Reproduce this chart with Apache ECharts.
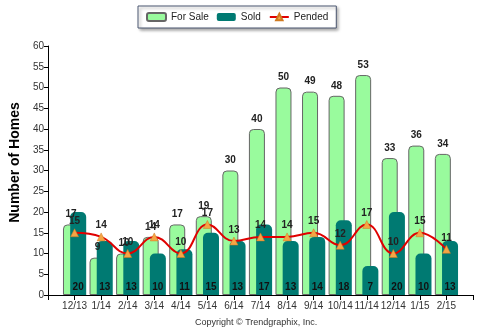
<!DOCTYPE html>
<html>
<head>
<meta charset="utf-8">
<script src="https://cdn.jsdelivr.net/npm/echarts@6/dist/echarts.min.js"></script>
<style>
  html, body { margin: 0; padding: 0; background: #fff; }
  #chart { width: 481px; height: 335px; }
</style>
</head>
<body>
<div id="chart"></div>
<script>
// Monthly home counts
const months = ['12/13', '1/14', '2/14', '3/14', '4/14', '5/14', '6/14', '7/14', '8/14', '9/14', '10/14', '11/14', '12/14', '1/15', '2/15'];
const forSale = [17, 9, 10, 14, 17, 19, 30, 40, 50, 49, 48, 53, 33, 36, 34];
const sold = [20, 13, 13, 10, 11, 15, 13, 17, 13, 14, 18, 7, 20, 10, 13];
const pended = [15, 14, 10, 14, 10, 17, 13, 14, 14, 15, 12, 17, 10, 15, 11];

// pad the axis with an empty slot on each side so the months sit inside
const pad = arr => ['-'].concat(arr, ['-']);
const axisCats = [''].concat(months, ['']);

const font = 'Arial, "Liberation Sans", sans-serif';
const chart = echarts.init(document.getElementById('chart'));

chart.setOption({
  animation: false,
  textStyle: { fontFamily: font },
  legend: {
    top: 6,
    left: 138,
    itemWidth: 19,
    itemHeight: 8,
    itemGap: 8,
    padding: [6, 8, 6, 8],
    backgroundColor: '#fff',
    borderColor: '#4a5670',
    borderWidth: 1,
    shadowColor: 'rgba(0,0,0,0.35)',
    shadowBlur: 3,
    shadowOffsetX: 2,
    shadowOffsetY: 2,
    textStyle: { fontSize: 10, color: '#222', fontFamily: font },
    data: ['For Sale', 'Sold', 'Pended']
  },
  grid: { left: 39, right: 8, top: 46, bottom: 40, containLabel: false },
  xAxis: {
    type: 'category',
    data: axisCats,
    boundaryGap: false,
    axisLine: { lineStyle: { color: '#000', width: 1 } },
    axisTick: { length: 5, lineStyle: { color: '#000' } },
    axisLabel: { fontSize: 10, color: '#333', margin: 6, interval: 0 },
    splitLine: { show: false }
  },
  yAxis: {
    type: 'value',
    min: 0,
    max: 60,
    interval: 5,
    name: 'Number of Homes',
    nameLocation: 'middle',
    nameGap: 22,
    nameTextStyle: { fontSize: 14, fontWeight: 'bold', color: '#000', padding: [0, 0, 0, 16] },
    axisLine: { show: true, lineStyle: { color: '#000', width: 1 } },
    axisTick: { show: true, length: 4, lineStyle: { color: '#000' } },
    axisLabel: { fontSize: 10, color: '#333', margin: 4 },
    splitLine: { show: false }
  },
  series: [
    {
      name: 'For Sale',
      type: 'bar',
      data: pad(forSale),
      barWidth: 16,
      barGap: '-55%',
      itemStyle: {
        color: '#99fb9d',
        borderColor: '#666',
        borderWidth: 1,
        borderRadius: [4, 4, 0, 0]
      },
      label: {
        show: true,
        position: 'top',
        distance: 5,
        fontSize: 10,
        fontWeight: 'bold',
        color: '#222'
      }
    },
    {
      name: 'Sold',
      type: 'bar',
      data: pad(sold),
      barWidth: 16,
      itemStyle: {
        color: '#007a72',
        borderRadius: [5, 5, 0, 0]
      },
      label: {
        show: true,
        position: 'insideBottom',
        distance: 3,
        fontSize: 10,
        fontWeight: 'bold',
        color: '#111'
      }
    },
    {
      name: 'Pended',
      type: 'line',
      data: pad(pended),
      smooth: 0.45,
      symbol: 'triangle',
      symbolSize: 8,
      lineStyle: { color: '#e00000', width: 2 },
      itemStyle: { color: '#f5a545', borderColor: '#d07a20', borderWidth: 0.5 },
      label: {
        show: true,
        position: 'top',
        distance: 2,
        fontSize: 10,
        fontWeight: 'bold',
        color: '#222'
      },
      z: 5
    }
  ],
  graphic: [
    {
      type: 'text',
      left: 195,
      top: 318,
      style: {
        text: 'Copyright \u00A9 Trendgraphix, Inc.',
        fontSize: 9,
        fill: '#333',
        fontFamily: font
      }
    }
  ]
});
</script>
</body>
</html>
